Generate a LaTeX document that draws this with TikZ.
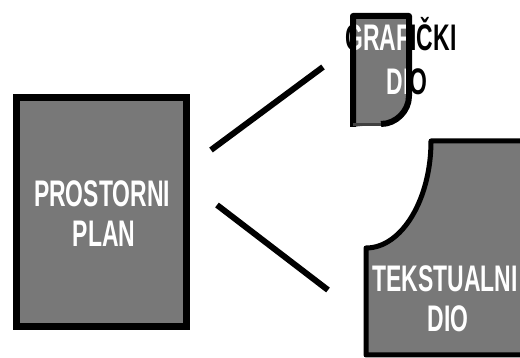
\documentclass[tikz,border=0pt]{standalone}
\usepackage{fontspec}
\setmainfont{Liberation Sans}[FakeStretch=0.62]
\definecolor{panel}{RGB}{120,120,120}
\begin{document}
\begin{tikzpicture}[x=1pt,y=-1pt,
  link/.style={line width=6pt},
  edge/.style={draw=black,line width=5pt,line join=round},
  lbl/.style={font=\fontsize{37}{40}\selectfont\bfseries,anchor=base,inner sep=0pt,text=white}]
\useasboundingbox (0,0) rectangle (520,358);

% main block
\node[draw=black,fill=panel,line width=7pt,minimum width=170pt,minimum height=229pt,inner sep=0pt] (plan) at (101.5,212) {};
\node[lbl] (plan1) at (102,207) {PROSTORNI};
\node[lbl] (plan2) at (104,247) {PLAN};

% connectors
\coordinate (u1) at (211,150);
\coordinate (u2) at (323,67);
\coordinate (d1) at (217,205);
\coordinate (d2) at (328,290);
\draw[link] (u1) -- (u2);
\draw[link] (d1) -- (d2);

% upper piece: text outside the shape is black, inside is white
\def\grafpath{(353,127) -- (353,16) -- (409,16) -- (409,96) .. controls (409,111) and (396,124) .. (381,124) -- cycle}
\node[lbl,text=black] (g1) at (401,51) {GRAFIČKI};
\node[lbl,text=black] (g2) at (407,95) {DIO};
\fill[panel] \grafpath;
\begin{scope}
  \clip \grafpath;
  \node[lbl] (g1w) at (401,51) {GRAFIČKI};
  \node[lbl] (g2w) at (407,95) {DIO};
\end{scope}
\draw[edge,line width=6pt] (353,127) -- (353,16) -- (409,16) -- (409,96) .. controls (409,111) and (396,124) .. (381,124);
\draw[draw=black!75,line width=3pt] (353,125) -- (381,125);

% lower piece
\filldraw[fill=panel,edge] (431,141) -- (535,141) -- (535,355) -- (366,355) -- (366,248)
   .. controls (402,248) and (431,199) .. cycle;
\node[lbl] (t1) at (445,292) {TEKSTUALNI};
\node[lbl] (t2) at (448,332) {DIO};
\end{tikzpicture}
\end{document}
